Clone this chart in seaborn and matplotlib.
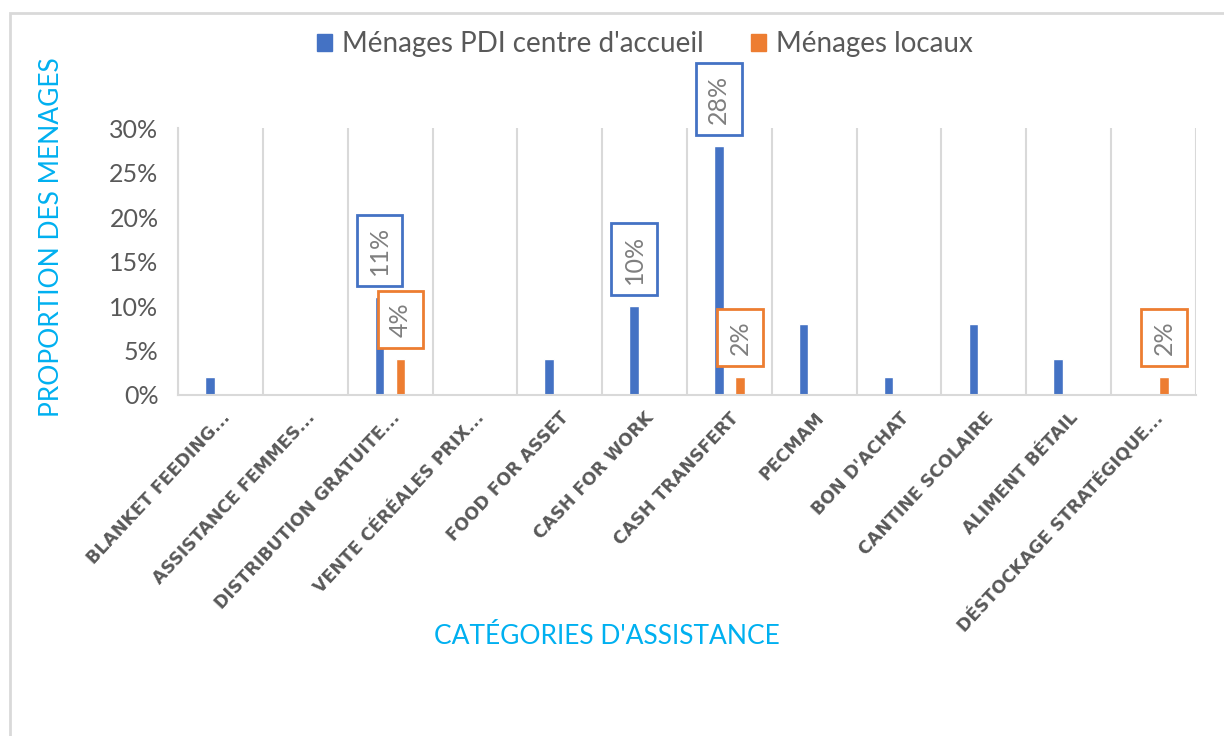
import numpy as np
import pandas as pd
import matplotlib
matplotlib.use("Agg")
import matplotlib.pyplot as plt
import seaborn as sns
from matplotlib.patches import Rectangle
from matplotlib.ticker import PercentFormatter

#%% data
categories = ["BLANKET FEEDING...", "ASSISTANCE FEMMES...", "DISTRIBUTION GRATUITE...",
              "VENTE CÉRÉALES PRIX...", "FOOD FOR ASSET", "CASH FOR WORK",
              "CASH TRANSFERT", "PECMAM", "BON D'ACHAT", "CANTINE SCOLAIRE",
              "ALIMENT BÉTAIL", "DÉSTOCKAGE STRATÉGIQUE..."]
pdi_values = [0.02, 0.0, 0.11, 0.0, 0.04, 0.10, 0.28, 0.08, 0.02, 0.08, 0.04, 0.0]
locaux_values = [0.0, 0.0, 0.04, 0.0, 0.0, 0.0, 0.02, 0.0, 0.0, 0.0, 0.0, 0.02]
series_names = ["Ménages PDI centre d'accueil", "Ménages locaux"]
# which bars get a data label
labelled = {"Ménages PDI centre d'accueil": ["DISTRIBUTION GRATUITE...", "CASH FOR WORK", "CASH TRANSFERT"],
            "Ménages locaux": ["DISTRIBUTION GRATUITE...", "CASH TRANSFERT", "DÉSTOCKAGE STRATÉGIQUE..."]}

df = pd.DataFrame({
    "categorie": categories * 2,
    "serie": [series_names[0]] * len(categories) + [series_names[1]] * len(categories),
    "valeur": pdi_values + locaux_values,
})

#%% plot
sns.set_style("white")
plt.rcParams["font.family"] = ["Lato", "DejaVu Sans"]

blue = "#4472C4"
orange = "#ED7D31"
cyan = "#00B0F0"
grey_txt = "#595959"
grid_col = "#D9D9D9"

fig = plt.figure(figsize=(12.24, 7.36), dpi=100)
ax = fig.add_axes([178/1224, 1-395/736, (1196-178)/1224, (395-128)/736])

sns.barplot(data=df, x="categorie", y="valeur", hue="serie", order=categories,
            hue_order=series_names, palette=[blue, orange], width=0.5, gap=0.55,
            saturation=1, ax=ax, legend=False)

ax.set_xlim(-0.5, len(categories) - 0.5)
ax.set_ylim(0, 0.30)
ax.set_yticks(np.arange(0, 0.31, 0.05))
ax.yaxis.set_major_formatter(PercentFormatter(1.0, decimals=0))
ax.tick_params(axis="y", labelsize=18, labelcolor=grey_txt, color=grid_col, length=6, width=1.5, pad=8)

# vertical grid between categories
ax.set_xticks(np.arange(-0.5, len(categories), 1), minor=True)
ax.grid(True, axis="x", which="minor", color=grid_col, lw=1.5)
ax.tick_params(axis="x", which="minor", color=grid_col, length=5, width=1.5)
ax.tick_params(axis="x", which="major", length=0, pad=10)
ax.set_xticks(range(len(categories)))
ax.set_xticklabels(categories, rotation=47, ha="right", rotation_mode="anchor",
                   fontsize=12.5, fontweight="bold", color=grey_txt, fontfamily="DejaVu Sans")

for s in ["top", "right"]:
    ax.spines[s].set_visible(False)
for s in ["left", "bottom"]:
    ax.spines[s].set_color(grid_col)
    ax.spines[s].set_linewidth(1.5)
ax.set_xlabel("")
ax.set_ylabel("")

# data labels with coloured boxes
for container, name, col in zip(ax.containers, series_names, [blue, orange]):
    for bar, cat in zip(container, categories):
        if cat in labelled[name]:
            h = bar.get_height()
            ax.annotate(f"{h*100:.0f}%", (bar.get_x() + bar.get_width()/2, h),
                        xytext=(0, 16), textcoords="offset points", rotation=90,
                        ha="center", va="bottom", fontsize=18, color="#7F7F7F",
                        bbox=dict(boxstyle="square,pad=0.45", fc="white", ec=col, lw=2))

# legend
handles = [Rectangle((0, 0), 1, 1, color=c) for c in [blue, orange]]
fig.legend(handles, series_names, loc="center", bbox_to_anchor=(645/1224, 1-44/736),
           ncol=2, frameon=False, fontsize=20, handlelength=0.55, handleheight=0.55,
           handletextpad=0.35, columnspacing=1.7, labelcolor=grey_txt)

# axis titles
fig.text(52/1224, 1-237/736, "PROPORTION DES MENAGES", rotation=90, ha="center", va="center",
         color=cyan, fontsize=19)
fig.text(607/1224, 1-636/736, "CATÉGORIES D'ASSISTANCE", ha="center", va="center",
         color=cyan, fontsize=19)

# chart border
fig.add_artist(Rectangle((10/1224, -0.1), 1.1, 1-13/736+0.1, transform=fig.transFigure,
                         fill=False, ec="#D9D9D9", lw=2))

plt.savefig("out.png", dpi=100)
